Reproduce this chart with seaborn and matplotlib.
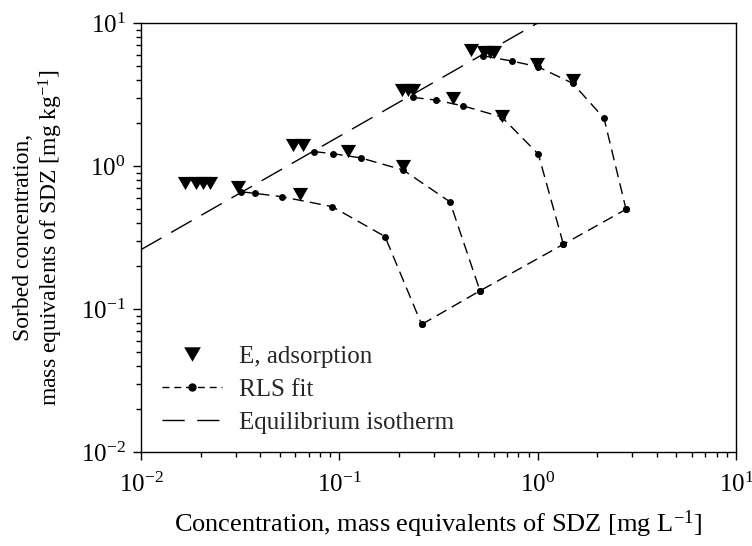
import numpy as np
import pandas as pd
import matplotlib
matplotlib.use("Agg")
import matplotlib.pyplot as plt
import seaborn as sns
from matplotlib.lines import Line2D
from matplotlib.ticker import LogLocator, NullFormatter

# ---- data ----
# Experimental adsorption points (E, adsorption)
E_conc = [0.0167, 0.0190, 0.0205, 0.0222, 0.031, 0.0634,
          0.0585, 0.0656, 0.110, 0.209,
          0.207, 0.222, 0.236, 0.376, 0.659,
          0.461, 0.535, 0.575, 0.605, 0.996, 1.50]
E_sorb = [0.757, 0.757, 0.757, 0.757, 0.71, 0.634,
          1.40, 1.40, 1.27, 1.00,
          3.40, 3.40, 3.40, 3.00, 2.25,
          6.50, 6.30, 6.25, 6.25, 5.20, 4.00]

# RLS fit curves (four runs) and the line linking their end points
rls_A_c = [0.032, 0.0376, 0.0512, 0.092, 0.170, 0.260]
rls_A_s = [0.66, 0.644, 0.610, 0.520, 0.321, 0.078]
rls_B_c = [0.0748, 0.0926, 0.128, 0.210, 0.361, 0.512]
rls_B_s = [1.26, 1.22, 1.14, 0.937, 0.562, 0.134]
rls_C_c = [0.234, 0.307, 0.422, 0.659, 1.008, 1.348]
rls_C_s = [3.02, 2.89, 2.63, 2.20, 1.21, 0.2835]
rls_D_c = [0.53, 0.740, 1.00, 1.50, 2.16, 2.79]
rls_D_s = [5.90, 5.42, 4.95, 3.79, 2.16, 0.498]
rls_end_c = [0.260, 0.512, 1.348, 2.79]
rls_end_s = [0.078, 0.134, 0.2835, 0.498]

# Equilibrium isotherm (straight line in log-log space)
iso_c = [0.01, 1.0]
iso_s = [0.26, 10.0]

x_ticks = [0.01, 0.1, 1, 10]
y_ticks = [0.01, 0.1, 1, 10]
x_tick_labels = ["10$^{-2}$", "10$^{-1}$", "10$^{0}$", "10$^{1}$"]
y_tick_labels = ["10$^{-2}$", "10$^{-1}$", "10$^{0}$", "10$^{1}$"]

# ---- tables ----
E_df = pd.DataFrame({"c": E_conc, "s": E_sorb})
parts = []
for name, cc, ss in [("A", rls_A_c, rls_A_s), ("B", rls_B_c, rls_B_s),
                     ("C", rls_C_c, rls_C_s), ("D", rls_D_c, rls_D_s),
                     ("end", rls_end_c, rls_end_s)]:
    parts.append(pd.DataFrame({"c": cc, "s": ss, "run": name}))
rls_df = pd.concat(parts, ignore_index=True)
iso_df = pd.DataFrame({"c": iso_c, "s": iso_s})

# ---- style ----
sns.set_theme(style="white")
plt.rcParams["font.family"] = ["Liberation Serif", "DejaVu Serif"]
plt.rcParams["mathtext.fontset"] = "custom"
plt.rcParams["mathtext.rm"] = "Liberation Serif"
plt.rcParams["mathtext.it"] = "Liberation Serif:italic"
plt.rcParams["mathtext.bf"] = "Liberation Serif:bold"

FS = 18

fig = plt.figure(figsize=(7.52, 5.46), dpi=100)
ax = fig.add_axes([141 / 752, 1 - 452 / 546, 595 / 752, 429 / 546])

rls_dash = (0, (8.0, 4.5))
iso_dash = (0, (17.0, 8.0))
tri = [(-1, 0.866), (1, 0.866), (0, -0.866)]

sns.lineplot(data=iso_df, x="c", y="s", ax=ax, color="black", lw=1.0,
             linestyle=iso_dash, sort=False, estimator=None, legend=False)
sns.lineplot(data=rls_df, x="c", y="s", units="run", estimator=None,
             sort=False, ax=ax, color="black", lw=1.0, linestyle=rls_dash,
             marker="o", markersize=5, markeredgewidth=0, legend=False)
sns.scatterplot(data=E_df, x="c", y="s", ax=ax, color="black", marker=tri,
                s=120, linewidth=0, legend=False, zorder=5)

ax.set_xscale("log")
ax.set_yscale("log")
ax.set_xlim(0.01, 10)
ax.set_ylim(0.01, 10)
ax.set_xticks(x_ticks)
ax.set_xticklabels(x_tick_labels)
ax.set_yticks(y_ticks)
ax.set_yticklabels(y_tick_labels)
ax.xaxis.set_minor_locator(LogLocator(base=10, subs=np.arange(2, 10)))
ax.yaxis.set_minor_locator(LogLocator(base=10, subs=np.arange(2, 10)))
ax.xaxis.set_minor_formatter(NullFormatter())
ax.yaxis.set_minor_formatter(NullFormatter())

for sp in ax.spines.values():
    sp.set_color("black")
    sp.set_linewidth(1.0)
ax.tick_params(which="both", direction="out", bottom=True, left=True,
               top=False, right=False, color="black", width=1.0,
               labelsize=FS, labelcolor="black")
ax.tick_params(which="major", length=6)
ax.tick_params(which="minor", length=3.5)
ax.tick_params(axis="x", which="major", pad=9)
ax.tick_params(axis="y", which="major", pad=5)

ax.set_xlabel("Concentration, mass equivalents of SDZ [mg L$^{-1}$]",
              fontsize=19, color="black")
ax.xaxis.set_label_coords(0.5, -0.132)
ax.set_ylabel("Sorbed concentration,\nmass equivalents of SDZ [mg kg$^{-1}$]",
              fontsize=17, color="black", linespacing=1.15)
ax.yaxis.set_label_coords(-0.127, 0.5)

handles = [
    Line2D([], [], color="black", marker=tri, markersize=12, linestyle="none",
           markeredgewidth=0),
    Line2D([], [], color="black", marker="o", markersize=5, lw=1.0,
           linestyle=(0, (5.0, 3.5))),
    Line2D([], [], color="black", lw=1.0, linestyle=(0, (16.0, 9.0))),
]
labels = ["E, adsorption", "RLS fit", "Equilibrium isotherm"]
ax.legend(handles, labels, loc="lower left", bbox_to_anchor=(0.018, 0.019),
          frameon=False, fontsize=FS, handlelength=2.4, handletextpad=0.7,
          labelspacing=0.42, borderaxespad=0.0, borderpad=0.4)

fig.savefig("out.png", dpi=100)
